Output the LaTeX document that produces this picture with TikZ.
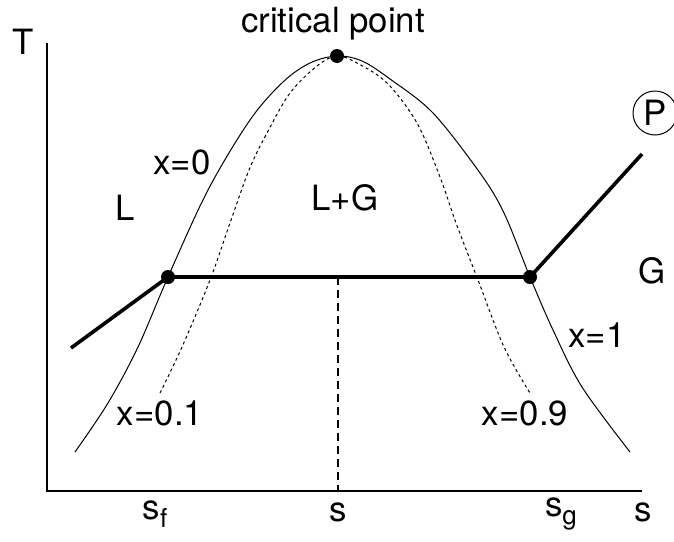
\documentclass[tikz,border=0pt]{standalone}
\usepackage{fontspec}
\setmainfont{TeX Gyre Heros}
\newcommand{\subtxt}[1]{\raisebox{-4pt}{\fontsize{13}{13}\selectfont #1}}

\begin{document}
\begin{tikzpicture}[x=0.5pt, y=-0.5pt, font=\fontsize{17.4}{20}\selectfont,
  dot/.style={circle, fill, inner sep=0pt, minimum size=7pt},
  state/.style={line width=1.8pt},
  dome/.style={line width=0.5pt},
  quality/.style={line width=0.5pt, dash pattern=on 1.5pt off 1.5pt},
  axis/.style={line width=0.75pt}]
  \useasboundingbox (0,0) rectangle (674,541);

  % axes
  \coordinate (Ttop) at (47,43);
  \coordinate (O) at (47,491);
  \coordinate (Send) at (642,491);
  \draw[axis] (Ttop) -- (O) -- (Send);

  % saturation dome and quality lines
  \draw[dome] plot[smooth, tension=0.55] coordinates {(75,452) (108,403)
    (138,347) (168,277) (208,190) (250,120) (283,82) (310,63) (337,56)
    (362,61) (390,79) (433,113) (480,173) (504,213) (530,277) (553,330)
    (582,387) (630,452)};
  \draw[quality] plot[smooth, tension=0.55] coordinates {(160,393) (182,347)
    (210,280) (230,223) (249,170) (267,133) (290,93) (317,66) (337,56)
    (357,63) (387,83) (417,123) (440,177) (456,223) (478,280) (504,347)
    (530,393)};

  \node[dot] (C) at (337,56) {};
  \node[dot] (F) at (168,277) {};
  \node[dot] (G) at (530,277) {};
  \coordinate (A) at (71,348);
  \coordinate (B) at (642,154);
  \coordinate (D) at (338,491);

  \draw[state] (A) -- (F.center) -- (G.center) -- (B);
  \draw[axis, dash pattern=on 4pt off 2.5pt] (338,277) -- (D);

  \node (crit) at (333,24) {critical point};
  \node (T) at (23,42) {T};
  \node (P) at (655,113) [circle, draw, line width=0.5pt, inner sep=0pt, minimum size=22pt] {P};
  \node (x0) at (182,162) {x=0};
  \node (L) at (125,208) {L};
  \node (LG) at (345,198) {L+G};
  \node (Gas) at (652,271) {G};
  \node (x1) at (597,335) {x=1};
  \node (x01) at (160,413) {x=0.1};
  \node (x09) at (525,413) {x=0.9};
  \node (sf) at (155,514) {s\subtxt{f}};
  \node (s) at (338,512) {s};
  \node (sg) at (561,514) {s\subtxt{g}};
  \node (saxis) at (643,512) {s};
\end{tikzpicture}
\end{document}
